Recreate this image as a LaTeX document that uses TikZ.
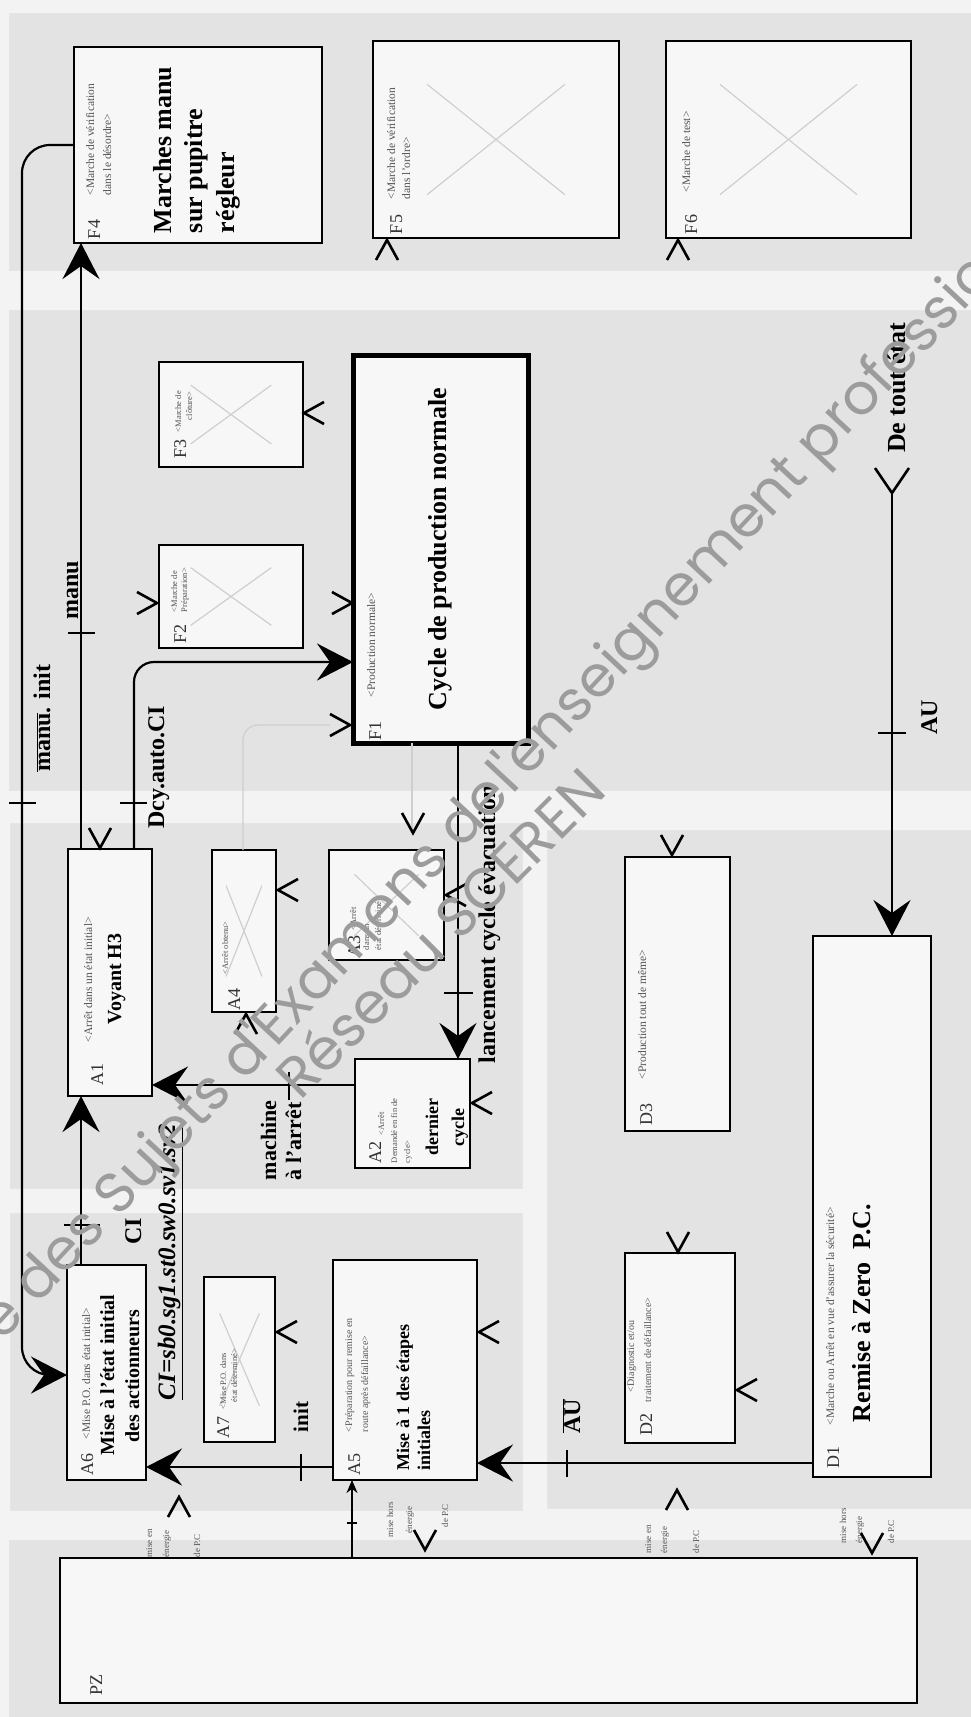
\documentclass[tikz,border=0pt]{standalone}
\usepackage{fontspec}
\setmainfont{Liberation Serif}
\newfontfamily\wmfont{Poppins}
\usetikzlibrary{arrows.meta,fit,calc}

\definecolor{bgc}{HTML}{F3F3F3}
\definecolor{zonec}{HTML}{E3E3E3}
\definecolor{boxc}{HTML}{F7F7F7}
\definecolor{smallc}{HTML}{555555}
\definecolor{faintc}{HTML}{CFCFCF}
\definecolor{wmc}{HTML}{9C9C9C}

\tikzset{
  zone/.style={fill=zonec, draw=black!10, line width=1pt},
  box/.style={draw=black, line width=2.8pt, fill=boxc, inner sep=0pt, outer sep=0pt},
  mainbox/.style={box, line width=5pt},
  rt/.style={rotate=90, inner sep=0pt, outer sep=0pt},
  lbl/.style={rt, font=\fontsize{18}{18}\selectfont, text=black!80, anchor=base west},
  sm/.style={rt, font=\fontsize{11.5}{11.5}\selectfont, text=smallc, anchor=base west},
  smx/.style={rt, font=\fontsize{8.5}{8.5}\selectfont, text=smallc, anchor=base west},
  tiny/.style={rt, font=\fontsize{9}{9}\selectfont, text=smallc, anchor=base west},
  big/.style={rt, font=\fontsize{26}{26}\selectfont\bfseries, anchor=base west},
  mid/.style={rt, font=\fontsize{20}{20}\selectfont\bfseries, anchor=base west},
  cond/.style={rt, font=\fontsize{24}{24}\selectfont\bfseries, anchor=base},
  conn/.style={line width=2.2pt, -{Stealth[length=36pt,width=37pt,inset=13pt]}},
  tick/.style={line width=2.2pt},
  openv/.style={line width=2.6pt, line join=miter},
  faint/.style={draw=faintc, line width=1.2pt},
  wm/.style={inner sep=0pt, font=\wmfont\fontsize{57}{57}\selectfont, text=wmc},
}

\newcommand\arrU[2]{\draw[openv] ({#1-11},{#2+20}) -- (#1,#2) -- ({#1+11},{#2+20});}
\newcommand\arrD[2]{\draw[openv] ({#1-11},{#2-20}) -- (#1,#2) -- ({#1+11},{#2-20});}
\newcommand\arrL[2]{\draw[openv] ({#1+20},{#2-11}) -- (#1,#2) -- ({#1+20},{#2+11});}
\newcommand\arrR[2]{\draw[openv] ({#1-20},{#2-11}) -- (#1,#2) -- ({#1-20},{#2+11});}
\newcommand\faintX[1]{\draw[faint] ($(#1.south west)!0.22!(#1.north east)$) -- ($(#1.south west)!0.78!(#1.north east)$);
  \draw[faint] ($(#1.north west)!0.22!(#1.south east)$) -- ($(#1.north west)!0.78!(#1.south east)$);}

\begin{document}
\begin{tikzpicture}[x=1pt,y=-1pt]
\path[use as bounding box] (0,0) rectangle (971,1717);
\clip (0,0) rectangle (971,1717);
\fill[bgc] (0,0) rectangle (971,1717);

% zones
\path[zone] (9,13) rectangle (975,270);
\path[zone] (9,310) rectangle (975,790);
\path[zone] (10,823) rectangle (522,1188);
\path[zone] (10,1213) rectangle (522,1510);
\path[zone] (547,830) rectangle (975,1508);
\path[zone] (9,1540) rectangle (975,1720);

% boxes
\node[box, fit={(74,47) (322,243)}] (F4) {};
\node[box, fit={(373,41) (619,238)}] (F5) {};
\node[box, fit={(666,41) (911,238)}] (F6) {};
\node[box, fit={(159,362) (303,467)}] (F3) {};
\node[box, fit={(159,545) (303,648)}] (F2) {};
\node[mainbox, fit={(353,355) (528,743)}] (F1) {};
\node[box, fit={(68,849) (152,1096)}] (A1) {};
\node[box, fit={(212,850) (276,1012)}] (A4) {};
\node[box, fit={(329,850) (444,960)}] (A3) {};
\node[box, fit={(355,1059) (470,1168)}] (A2) {};
\node[box, fit={(67,1265) (146,1480)}] (A6) {};
\node[box, fit={(204,1277) (275,1442)}] (A7) {};
\node[box, fit={(333,1260) (477,1480)}] (A5) {};
\node[box, fit={(625,857) (730,1131)}] (D3) {};
\node[box, fit={(625,1253) (735,1443)}] (D2) {};
\node[box, fit={(813,936) (931,1477)}] (D1) {};
\node[box, fit={(60,1558) (917,1703)}] (PZ) {};

\faintX{F5}\faintX{F6}\faintX{F3}\faintX{F2}\faintX{A4}\faintX{A3}\faintX{A7}

% faint connectors
\draw[faint] (F1.south -| 412,0) -- (412,833);
\draw[faint, rounded corners=15] (A4.north -| 243,0) -- (243,725) -- (330,725);

% box texts
\node[lbl] (F4id) at (100,239) {F4};
\node[sm] (F4s1) at (94,195) {<Marche de vérification};
\node[sm] (F4s2) at (111,195) {dans le désordre>};
\node[big] (F4t1) at (171,233) {Marches manu};
\node[big] (F4t2) at (202,233) {sur pupitre};
\node[big] (F4t3) at (234,233) {régleur};

\node[lbl] (F5id) at (402,234) {F5};
\node[sm] (F5s1) at (395,199) {<Marche de vérification};
\node[sm] (F5s2) at (410,199) {dans l'ordre>};

\node[lbl] (F6id) at (697,234) {F6};
\node[sm] (F6s1) at (690,192) {<Marche de test>};

\node[lbl] (F3id) at (186,458) {F3};
\node[smx] (F3s1) at (181,432) {<Marche de};
\node[smx] (F3s2) at (192,420) {clôture>};

\node[lbl] (F2id) at (186,643) {F2};
\node[smx] (F2s1) at (177,612) {<Marche de};
\node[smx] (F2s2) at (187,612) {Préparation>};

\node[lbl] (F1id) at (381,740) {F1};
\node[sm] (F1s1) at (375,697) {<Production normale>};
\node[big, anchor=base] (F1t) at (446,549) {Cycle de production normale};

\node[lbl] (A1id) at (103,1085) {A1};
\node[sm] (A1s1) at (92,1042) {<Arrêt dans un état initial>};
\node[mid, anchor=base] (A1t) at (121,979) {Voyant H3};

\node[lbl] (A4id) at (240,1010) {A4};
\node[smx] (A4s1) at (228,974) {<Arrêt obtenu>};

\node[lbl] (A3id) at (360,957) {A3};
\node[smx] (A3s1) at (356,930) {<Arrêt};
\node[smx] (A3s2) at (369,950) {dans un};
\node[smx] (A3s3) at (381,950) {état déterminé>};

\node[lbl] (A2id) at (381,1163) {A2};
\node[smx] (A2s1) at (384,1135) {<Arrêt};
\node[smx] (A2s2) at (397,1163) {Demandé en fin de};
\node[smx] (A2s3) at (410,1163) {cycle>};
\node[mid, anchor=base, font=\fontsize{18}{18}\selectfont\bfseries] (A2t1) at (438,1127) {dernier};
\node[mid, anchor=base, font=\fontsize{18}{18}\selectfont\bfseries] (A2t2) at (464,1127) {cycle};

\node[lbl] (A6id) at (93,1475) {A6};
\node[sm] (A6s1) at (90,1439) {<Mise P.O. dans état initial>};
\node[mid, anchor=base] (A6t1) at (114,1375) {Mise à l'état initial};
\node[mid, anchor=base] (A6t2) at (139,1376) {des actionneurs};

\node[lbl] (A7id) at (229,1438) {A7};
\node[smx] (A7s1) at (226,1409) {<Mise P.O. dans};
\node[smx] (A7s2) at (237,1402) {état déterminé>};

\node[lbl] (A5id) at (360,1475) {A5};
\node[sm, font=\fontsize{10}{10}\selectfont] (A5s1) at (352,1432) {<Préparation pour remise en};
\node[sm, font=\fontsize{10}{10}\selectfont] (A5s2) at (368,1432) {route après défaillance>};
\node[mid, font=\fontsize{18}{18}\selectfont\bfseries] (A5t1) at (409,1470) {Mise à 1 des étapes};
\node[mid, font=\fontsize{18}{18}\selectfont\bfseries] (A5t2) at (430,1470) {initiales};

\node[lbl] (D3id) at (652,1125) {D3};
\node[sm] (D3s1) at (646,1079) {<Production tout de même>};

\node[lbl] (D2id) at (652,1435) {D2};
\node[sm, font=\fontsize{10}{10}\selectfont] (D2s1) at (634,1392) {<Diagnostic et/ou};
\node[sm, font=\fontsize{10}{10}\selectfont] (D2s2) at (651,1402) {traitement de défaillance>};

\node[lbl] (D1id) at (839,1468) {D1};
\node[sm] (D1s1) at (834,1425) {<Marche ou Arrêt en vue d'assurer la sécurité>};
\node[big] (D1t) at (870,1422) {Remise à Zero\ \ P.C.};

\node[lbl] (PZid) at (102,1695) {PZ};

% connectors
\draw[conn, rounded corners=28] (F4.west |- 0,145) -- (22,145) -- (22,1375) -- (A6.west |- 0,1375);
\draw[conn] (A1.north -| 81,0) -- (F4.south -| 81,0);
\draw[conn, rounded corners=20] (A1.north -| 134,0) -- (134,662) -- (F1.west |- 0,662);
\draw[conn] (F1.south -| 458,0) -- (A2.north -| 458,0);
\draw[conn] (A2.west |- 0,1085) -- (A1.east |- 0,1085);
\draw[conn] (A6.north -| 81,0) -- (A1.south -| 81,0);
\draw[conn] (A5.west |- 0,1467) -- (A6.east |- 0,1467);
\draw[conn] (D1.west |- 0,1463) -- (A5.east |- 0,1463);
\coordinate (dte) at (892,493);
\draw[conn] (dte) -- (D1.north -| 892,0);
\draw[openv] (875,468) -- (dte) -- (909,468);
\draw[line width=1.4pt, -{Stealth[length=13pt,width=11pt]}] (PZ.north -| 352,0) -- (A5.south -| 352,0);
\draw[line width=1.2pt] (347,1523) -- (357,1523);

% ticks
\draw[tick] (9,803) -- (36,803);
\draw[tick] (120,803) -- (147,803);
\draw[tick] (68,633) -- (95,633);
\draw[tick] (444,993) -- (473,993);
\draw[tick] (289,1072) -- (289,1100);
\draw[tick] (64,1225) -- (100,1225);
\draw[tick] (301,1454) -- (301,1481);
\draw[tick] (567,1450) -- (567,1477);
\draw[tick] (878,733) -- (906,733);

% condition labels
\node[cond] (cMI) at (50,718) {$\overline{\mbox{manu}}$. init};
\node[cond] (cM) at (78,590) {manu};
\node[cond] (cD) at (164,767) {Dcy.auto.CI};
\node[cond] (cL) at (495,924) {lancement cycle évacuation};
\node[cond, anchor=base west, font=\fontsize{22}{22}\selectfont\bfseries] (cMa1) at (276,1180) {machine};
\node[cond, anchor=base west, font=\fontsize{22}{22}\selectfont\bfseries] (cMa2) at (301,1180) {à l'arrêt};
\node[cond] (cCI) at (141,1231) {CI};
\node[cond, anchor=base west, font=\fontsize{25}{25}\selectfont\bfseries\itshape] (cEq) at (175,1400) {\underline{CI=sb0.sg1.st0.sw0.sv1.sv2}};
\node[cond, font=\fontsize{21}{21}\selectfont\bfseries] (cI) at (308,1417) {init};
\node[cond] (cAUb) at (580,1416) {$\overline{\mbox{AU}}$};
\node[cond] (cAU) at (937,717) {AU};
\node[cond, font=\fontsize{26}{26}\selectfont\bfseries] (cDT) at (905,388) {De tout état};

% energy labels
\node[tiny] (e1a) at (152,1557) {mise en};
\node[tiny] (e1b) at (169,1557) {énergie};
\node[tiny] (e1c) at (200,1557) {de P.C};
\node[tiny] (e2a) at (393,1537) {mise hors};
\node[tiny] (e2b) at (412,1533) {énergie};
\node[tiny] (e2c) at (448,1527) {de P.C};
\node[tiny] (e3a) at (651,1553) {mise en};
\node[tiny] (e3b) at (667,1553) {énergie};
\node[tiny] (e3c) at (699,1553) {de P.C};
\node[tiny] (e4a) at (846,1543) {mise hors};
\node[tiny] (e4b) at (862,1543) {énergie};
\node[tiny] (e4c) at (894,1543) {de P.C};

% open arrowheads
\arrU{387}{240}\arrU{678}{240}\arrU{246}{1014}\arrU{179}{1497}\arrU{677}{1490}
\arrD{100}{848}\arrD{413}{833}\arrD{672}{855}\arrD{678}{1252}\arrD{425}{1550}\arrD{872}{1553}
\arrL{304}{413}\arrL{278}{890}\arrL{446}{895}\arrL{472}{1103}\arrL{277}{1332}\arrL{479}{1332}\arrL{737}{1390}
\arrR{157}{603}\arrR{352}{603}\arrR{350}{725}

% watermark
\node[wm, rotate=47, anchor=base west] (wm1) at (512,796) {l'enseignement professionnel};
\node[wm, rotate=47, anchor=base east] (wm0) at (512,796) {Base Nationale des Sujets d'Examens de\ };
\node[wm, rotate=45, anchor=base west] (wm2) at (300,1102) {Réseau SCEREN};
\end{tikzpicture}
\end{document}
